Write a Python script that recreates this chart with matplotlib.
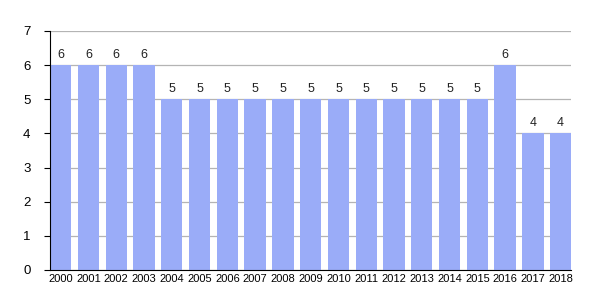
import matplotlib
matplotlib.use('Agg')
import matplotlib.pyplot as plt

# data
years = [str(y) for y in range(2000, 2019)]
counts = [6, 6, 6, 6, 5, 5, 5, 5, 5, 5, 5, 5, 5, 5, 5, 5, 6, 4, 4]

plt.rcParams['font.family'] = ['Liberation Sans', 'DejaVu Sans']

fig = plt.figure(figsize=(6, 3), dpi=100)
ax = fig.add_axes([0.0833, 0.1, 0.869, 0.797])

bar_width = 0.77
positions = list(range(len(years)))
ax.bar(positions, counts, bar_width, color='#9aacf8', zorder=2)

for x, v in zip(positions, counts):
    ax.text(x, v + 0.12, str(v), ha='center', va='bottom', fontsize=9, color='#222222')

ax.set_xlim(-bar_width / 2, len(years) - 1 + bar_width / 2)
ax.set_ylim(0, 7)
ax.set_yticks(range(8))
ax.yaxis.grid(True, color='#b4b4b4', linewidth=0.9, zorder=0)
ax.set_axisbelow(True)

ax.set_xticks(positions)
ax.set_xticklabels(years, fontsize=8)
ax.tick_params(axis='x', length=0, pad=3)
ax.tick_params(axis='y', labelsize=9.5, length=4, width=0.8, pad=10)

ax.spines['top'].set_visible(False)
ax.spines['right'].set_visible(False)
ax.spines['left'].set_color('black')
ax.spines['bottom'].set_color('black')

fig.savefig('out.png', dpi=100)
